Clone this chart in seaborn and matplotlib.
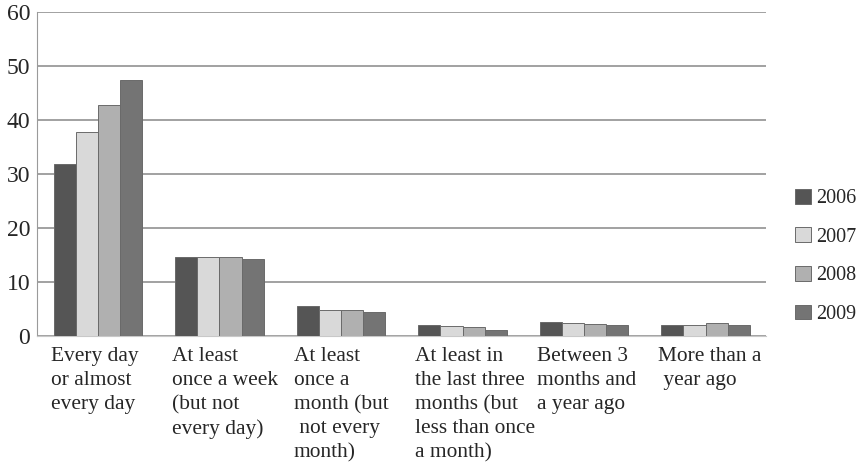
import matplotlib
matplotlib.use('Agg')
import matplotlib.pyplot as plt
import numpy as np
import pandas as pd
import seaborn as sns

categories = [
    'Every day\nor almost\nevery day',
    'At least\nonce a week\n(but not\nevery day)',
    'At least\nonce a\nmonth (but\n not every\nmonth)',
    'At least in\nthe last three\nmonths (but\nless than once\na month)',
    'Between 3\nmonths and\na year ago',
    'More than a\n year ago',
]
years = ['2006', '2007', '2008', '2009']
v2006 = [31.8, 14.6, 5.6, 2.0, 2.5, 2.1]
v2007 = [37.8, 14.5, 4.8, 1.9, 2.4, 2.0]
v2008 = [42.8, 14.5, 4.8, 1.7, 2.2, 2.3]
v2009 = [47.4, 14.3, 4.5, 1.0, 2.1, 2.1]
colors = ['#555555', '#d9d9d9', '#b0b0b0', '#747474']

rows = []
for year, vals in zip(years, [v2006, v2007, v2008, v2009]):
    for cat, v in zip(categories, vals):
        rows.append({'cat': cat, 'year': year, 'value': v})
df = pd.DataFrame(rows)

sns.set_style('white')
plt.rcParams['font.family'] = ['Liberation Serif', 'DejaVu Serif']

fig = plt.figure(figsize=(8.64, 4.62), dpi=100)
ax = fig.add_axes([0.043, 0.273, 0.844, 0.702])

sns.barplot(data=df, x='cat', y='value', hue='year', palette=colors,
            width=0.73, edgecolor='#6a6a6a', linewidth=0.7, ax=ax, zorder=3)

ax.set_ylim(0, 60)
ax.set_yticks(range(0, 61, 10))
ax.set_xlim(-0.5, 5.5)
ax.yaxis.grid(True, color='#9a9a9a', linewidth=1.3, zorder=0)
ax.set_axisbelow(True)
for s in ['top', 'right']:
    ax.spines[s].set_visible(False)
ax.spines['left'].set_color('#9a9a9a')
ax.spines['bottom'].set_color('#c8c8c8')
ax.tick_params(axis='y', length=3, color='#9a9a9a', labelsize=17, pad=2)
ax.set_xticks(np.arange(len(categories)) - 0.39)
ax.set_xticklabels(categories, ha='left', fontsize=15.4, linespacing=1.36)
ax.tick_params(axis='x', length=0, pad=8)
ax.set_xlabel('')
ax.set_ylabel('')

ax.legend(loc='center left', bbox_to_anchor=(1.015, 0.245), frameon=False,
          fontsize=14.5, handlelength=0.75, handleheight=0.75, handletextpad=0.3,
          labelspacing=0.95)

fig.savefig('out.png', dpi=100)
